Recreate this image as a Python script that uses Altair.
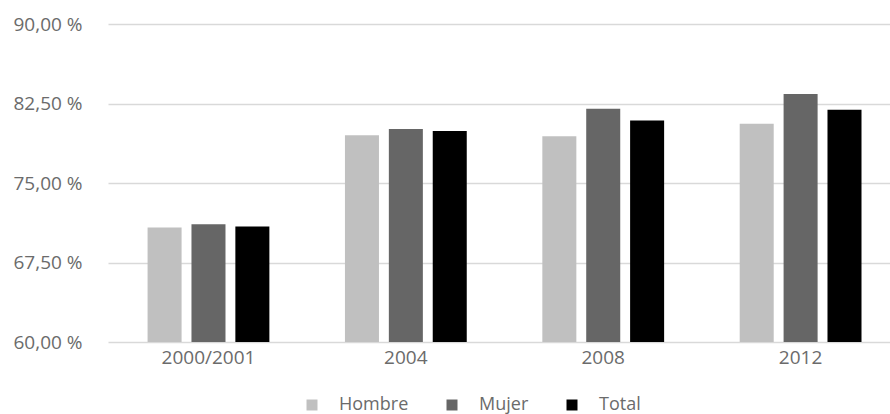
import altair as alt
import pandas as pd

# Survey years and the share (%) for each group
years = ["2000/2001", "2004", "2008", "2012"]
hombre = [70.8, 79.5, 79.4, 80.6]
mujer = [71.1, 80.1, 82.0, 83.4]
total = [70.9, 79.9, 80.9, 81.9]

series = ["Hombre", "Mujer", "Total"]
colors = ["#c0c0c0", "#666666", "#000000"]
y_ticks = [60, 67.5, 75, 82.5, 90]

rows = []
for name, vals in zip(series, [hombre, mujer, total]):
    for yr, v in zip(years, vals):
        rows.append({"Año": yr, "Grupo": name, "Valor": v})
df = pd.DataFrame(rows)

FONT = "Open Sans"
TXT = "#6b6b6b"

chart = (
    alt.Chart(df)
    .mark_bar()
    .encode(
        x=alt.X(
            "Año:N",
            sort=years,
            title=None,
            scale=alt.Scale(paddingInner=0.35, paddingOuter=0.156, align=0.59),
            axis=alt.Axis(
                labelAngle=0,
                labelFont=FONT,
                labelFontSize=19,
                labelColor=TXT,
                labelPadding=6,
                ticks=False,
                domain=False,
                grid=False,
            ),
        ),
        xOffset=alt.XOffset(
            "Grupo:N",
            sort=series,
            scale=alt.Scale(paddingInner=0.225, paddingOuter=0.074),
        ),
        y=alt.Y(
            "Valor:Q",
            title=None,
            scale=alt.Scale(domain=[60, 90], zero=False, nice=False),
            axis=alt.Axis(
                values=y_ticks,
                labelExpr="replace(format(datum.value, '.2f'), '.', ',') + ' %'",
                labelFont=FONT,
                labelFontSize=19,
                labelColor=TXT,
                labelPadding=26,
                ticks=False,
                domain=False,
                gridColor="#d9d9d9",
                gridWidth=1.6,
            ),
        ),
        y2=alt.datum(60),
        color=alt.Color(
            "Grupo:N",
            sort=series,
            scale=alt.Scale(domain=series, range=colors),
            legend=alt.Legend(
                title=None,
                orient="none",
                direction="horizontal",
                legendX=195,
                legendY=372,
                padding=0,
                symbolType="square",
                symbolSize=121,
                symbolStrokeWidth=0,
                labelFont=FONT,
                labelFontSize=18,
                labelColor=TXT,
                labelOffset=18,
                columnPadding=34,
            ),
        ),
    )
    .properties(
        width=782,
        height=318,
        autosize=alt.AutoSizeParams(type="none"),
        padding={"left": 108, "top": 24, "right": 0, "bottom": 72},
    )
    .configure(background="white")
    .configure_view(strokeWidth=0)
)

chart.save("out.html", embed_options={"renderer": "svg", "actions": False})
